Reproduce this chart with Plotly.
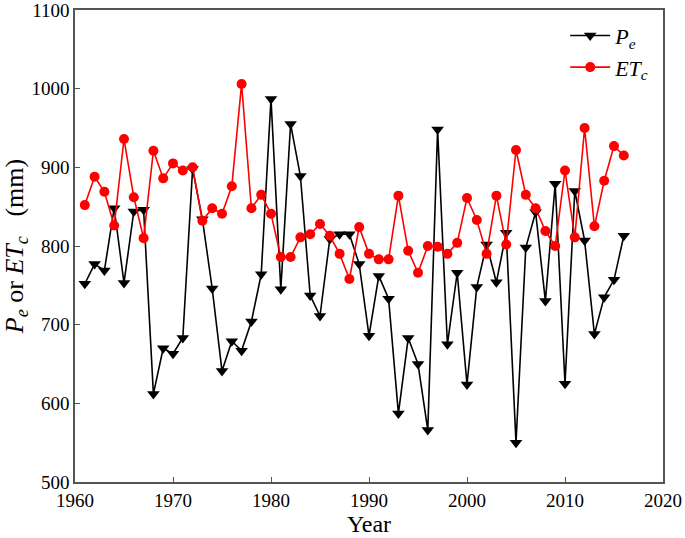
import plotly.graph_objects as go

years = list(range(1961, 2017))

pe = [752, 777, 769, 848, 753, 844, 846, 612, 670, 663,
      683, 898, 834, 746, 641, 679, 667, 704, 764, 987,
      745, 955, 889, 737, 711, 809, 815, 815, 777, 686,
      762, 733, 587, 683, 650, 566, 948, 675, 766, 624,
      748, 802, 754, 817, 550, 798, 843, 730, 879, 625,
      870, 807, 688, 735, 757, 813]

etc = [852, 888, 869, 826, 936, 862, 810, 921, 886, 905,
       896, 900, 832, 848, 841, 876, 1006, 848, 865, 841,
       786, 786, 811, 815, 828, 813, 790, 758, 824, 790,
       783, 783, 864, 794, 766, 800, 799, 790, 804, 861,
       833, 790, 864, 802, 922, 865, 848, 819, 800, 896,
       811, 950, 825, 883, 927, 915]

x_ticks = [1960, 1970, 1980, 1990, 2000, 2010, 2020]
y_ticks = [500, 600, 700, 800, 900, 1000, 1100]

font = "Liberation Serif"

fig = go.Figure()
fig.add_trace(go.Scatter(
    x=years, y=pe, mode="lines+markers", name="<i>P</i><sub><i>e</i></sub>",
    line=dict(color="black", width=1.6),
    marker=dict(symbol="triangle-down", size=11, color="black"),
))
fig.add_trace(go.Scatter(
    x=years, y=etc, mode="lines+markers", name="<i>ET</i><sub><i>c</i></sub>",
    line=dict(color="#ff0000", width=1.6),
    marker=dict(symbol="circle", size=10, color="#ff0000"),
))

axis_common = dict(
    showline=True, linecolor="#555555", linewidth=1.5, mirror=True,
    ticks="inside", ticklen=5, tickwidth=1.2, tickcolor="#555555",
    showgrid=False, zeroline=False, automargin=False,
    ticklabeloverflow="allow",
    tickfont=dict(family=font, size=19, color="black"),
)

fig.update_layout(
    width=685, height=538,
    margin=dict(l=75, r=22, t=10, b=56),
    paper_bgcolor="white", plot_bgcolor="white",
    font=dict(family=font, color="black"),
    xaxis=dict(range=[1960, 2020], tickvals=x_ticks,
               title=dict(text="Year", font=dict(family=font, size=24), standoff=2),
               **axis_common),
    yaxis=dict(range=[500, 1100], tickvals=y_ticks,
               title=dict(text="<i>P</i><sub><i>e</i></sub> or <i>ET</i><sub><i>c</i></sub>&nbsp;&nbsp;&nbsp;(mm)",
                          font=dict(family=font, size=26), standoff=2),
               **axis_common),
    legend=dict(x=0.985, y=0.99, xanchor="right", yanchor="top",
                bgcolor="rgba(0,0,0,0)", font=dict(family=font, size=22),
                tracegroupgap=0, itemwidth=40),
    showlegend=True,
)

fig.write_html("out.html",
               config={"displayModeBar": False},
               post_script="document.body.style.margin='0';document.body.style.overflow='hidden';")
